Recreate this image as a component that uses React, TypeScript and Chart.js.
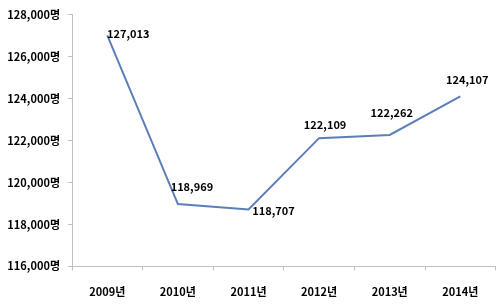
import React, { useEffect, useRef } from "react";
import { Chart, registerables } from "chart.js";

Chart.register(...registerables);

const categories = ["2009년", "2010년", "2011년", "2012년", "2013년", "2014년"];
const values = [127013, 118969, 118707, 122109, 122262, 124107];
const yTicksMin = 116000;
const yTicksMax = 128000;
const yStep = 2000;
const labelOffsets = [
  [21, -1],
  [14, -17],
  [25, 1],
  [6, -13],
  [2, -22],
  [7, -16],
];

const FONT = "'Noto Sans CJK KR', 'Malgun Gothic', sans-serif";
const fmt = (v: number) => v.toLocaleString("en-US");

const labelPlugin = {
  id: "pointLabels",
  afterDatasetsDraw(chart: any) {
    const ctx = chart.ctx;
    const meta = chart.getDatasetMeta(0);
    ctx.save();
    ctx.font = `bold 11px ${FONT}`;
    ctx.fillStyle = "#000";
    ctx.textAlign = "center";
    ctx.textBaseline = "middle";
    meta.data.forEach((el: any, i: number) => {
      const [dx, dy] = labelOffsets[i];
      ctx.fillText(fmt(values[i]), el.x + dx, el.y + dy);
    });
    ctx.restore();
  },
};

export default function App() {
  const ref = useRef<HTMLCanvasElement>(null);
  useEffect(() => {
    if (!ref.current) return;
    const chart = new Chart(ref.current, {
      type: "line",
      data: {
        labels: categories,
        datasets: [
          {
            data: values,
            borderColor: "#5b7fb6",
            borderWidth: 2,
            pointRadius: 0,
            tension: 0,
          },
        ],
      },
      options: {
        animation: false,
        responsive: false,
        devicePixelRatio: 1,
        layout: { padding: { top: 7.6, right: 4.4, left: 0, bottom: 0 } },
        plugins: { legend: { display: false }, tooltip: { enabled: false } },
        scales: {
          x: {
            offset: true,
            grid: {
              offset: true,
              drawOnChartArea: false,
              drawTicks: true,
              tickLength: 4,
              color: "#bfbfbf",
            },
            border: { color: "#bfbfbf", width: 1 },
            ticks: {
              color: "#000",
              font: { family: FONT, size: 11, weight: "bold" },
              padding: 15,
              maxRotation: 0,
            },
            afterFit: (s: any) => {
              s.height = 37.7;
            },
          },
          y: {
            min: yTicksMin,
            max: yTicksMax,
            grid: {
              drawOnChartArea: false,
              drawTicks: true,
              tickLength: 4,
              color: "#bfbfbf",
            },
            border: { color: "#bfbfbf", width: 1 },
            ticks: {
              stepSize: yStep,
              color: "#000",
              font: { family: FONT, size: 11, weight: "bold" },
              padding: 8,
              callback: (v: any) => fmt(Number(v)) + "명",
            },
            afterFit: (s: any) => {
              s.width = 72;
            },
          },
        },
      },
      plugins: [labelPlugin],
    });
    return () => chart.destroy();
  }, []);
  return (
    <div style={{ position: "absolute", left: 0, top: 0, width: 500, height: 304, background: "#fff" }}>
      <canvas ref={ref} width={500} height={304} style={{ width: 500, height: 304 }} />
    </div>
  );
}
